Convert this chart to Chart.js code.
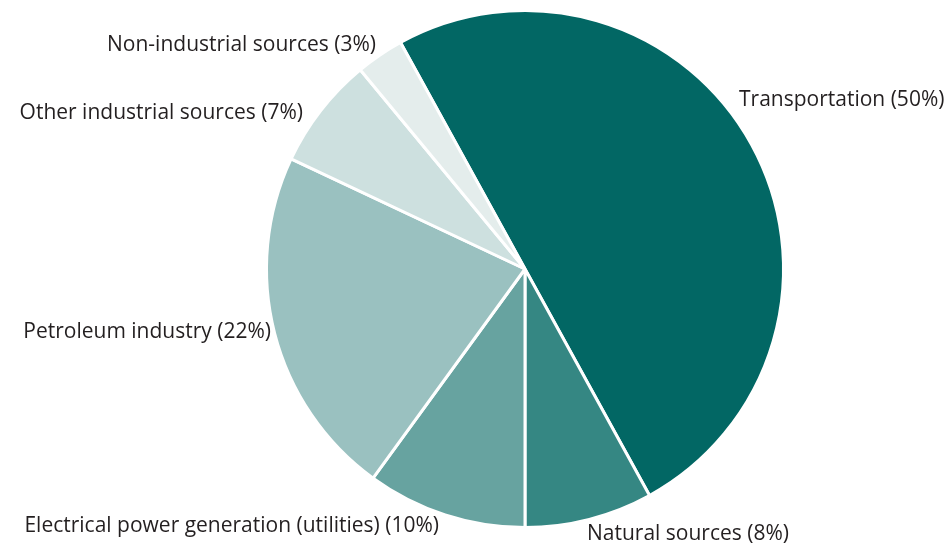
<!DOCTYPE html>
<html>
<head>
<meta charset="utf-8">
<script src="https://cdn.jsdelivr.net/npm/chart.js@4/dist/chart.umd.min.js"></script>
<style>
  html, body { margin: 0; padding: 0; background: #ffffff; }
  #wrap { width: 950px; height: 545px; position: relative; }
</style>
</head>
<body>
<div id="wrap"><canvas id="chart"></canvas></div>
<script>
// Fontes de emissão (pizza), sentido horário a partir da fatia de transporte.
var categories = [
  "Transportation",
  "Natural sources",
  "Electrical power generation (utilities)",
  "Petroleum industry",
  "Other industrial sources",
  "Non-industrial sources"
];
var shares = [50, 8, 10, 22, 7, 3];
var sliceColors = ["#026764", "#358783", "#67a3a0", "#9ac1c0", "#cde0df", "#e4edec"];

// Posição dos rótulos em relação ao centro da pizza (dx, dy) e alinhamento.
var labelPlacement = [
  { dx: 214, dy: -169, align: "left" },
  { dx: 62, dy: 265, align: "left" },
  { dx: -86, dy: 257, align: "right" },
  { dx: -254, dy: 63, align: "right" },
  { dx: -222, dy: -156, align: "right" },
  { dx: -149, dy: -224, align: "right" }
];

var TEXT = "#231f20";
var FONT = "21px 'Open Sans', sans-serif";

var outsideLabels = {
  id: "outsideLabels",
  afterDatasetsDraw: function (chart) {
    var ctx = chart.ctx;
    var arc = chart.getDatasetMeta(0).data[0];
    if (!arc) return;
    ctx.save();
    ctx.font = FONT;
    ctx.fillStyle = TEXT;
    ctx.textBaseline = "middle";
    chart.data.labels.forEach(function (label, i) {
      var p = labelPlacement[i];
      ctx.textAlign = p.align;
      ctx.fillText(label + " (" + chart.data.datasets[0].data[i] + "%)", arc.x + p.dx, arc.y + p.dy);
    });
    ctx.restore();
  }
};

new Chart(document.getElementById("chart"), {
  type: "pie",
  data: {
    labels: categories,
    datasets: [{
      data: shares,
      backgroundColor: sliceColors,
      borderColor: "#ffffff",
      borderWidth: 3
    }]
  },
  options: {
    responsive: true,
    maintainAspectRatio: false,
    animation: false,
    rotation: -28.8,
    layout: { padding: { left: 264, right: 164, top: 9, bottom: 16 } },
    plugins: {
      legend: { display: false },
      tooltip: { enabled: false }
    }
  },
  plugins: [outsideLabels]
});
</script>
</body>
</html>
